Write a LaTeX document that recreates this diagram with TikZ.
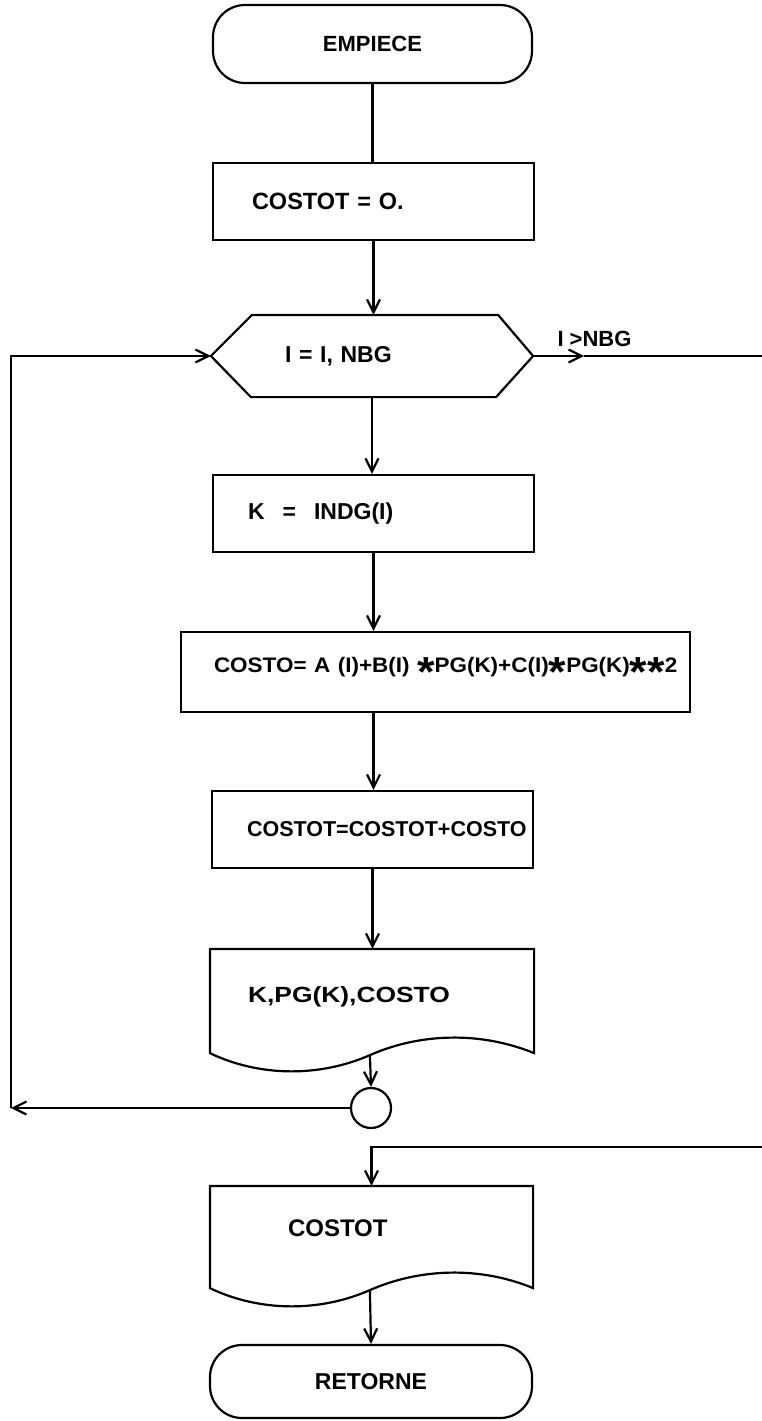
\documentclass[tikz,border=0pt]{standalone}
\usepackage{fontspec}
\setmainfont{Liberation Sans}
\usetikzlibrary{arrows.meta,calc}
\newcommand{\bigast}{\raisebox{-0.66em}{\scalebox{2}{*}}}
\newcommand{\docoutline}[1]{%
  \draw (#1.north west) -- (#1.south west)
    .. controls ($(#1.south west)+(50,24)$) and ($(#1.south west)+(110,24)$) .. ($(#1.south west)+(160,2)$) coordinate (#1out)
    .. controls ($(#1.south west)+(210,-20)$) and ($(#1.south west)+(270,-22)$) .. (#1.south east)
    -- (#1.north east) -- cycle;}
\begin{document}
\begin{tikzpicture}[x=1pt,y=-1pt,line width=2.2pt,
  fs/.style={font=\bfseries\fontsize{#1}{#1}\selectfont},
  flow/.style={-{Straight Barb[length=13pt,width=13pt]}},
  box/.style={draw,rectangle,inner sep=0pt,align=left},
  term/.style={draw,rectangle,rounded corners=32pt,inner sep=0pt},
  hidden/.style={rectangle,inner sep=0pt,align=left}]
\useasboundingbox (0,0) rectangle (761,1421);

% nodes
\node[term,fs=22,minimum width=319pt,minimum height=78pt] (start) at (372.5,44) {EMPIECE};
\node[box,fs=23.5,text width=321pt,minimum height=77pt] (init) at (373.5,201.5) {\hspace*{39pt}COSTOT = O.};
\node[hidden,fs=23,text width=320pt,minimum height=80pt] (hex) at (372,356) {\hspace*{73pt}I = I, NBG};
\draw (hex.west) -- ($(hex.north west)+(41,0)$) -- ($(hex.north east)+(-35,0)$) -- (hex.east)
      -- ($(hex.south east)+(-37,0)$) -- ($(hex.south west)+(40,0)$) -- cycle;
\node[fs=22,inner sep=0pt] (cond) at (594.5,339) {I >NBG};
\node[box,fs=23,text width=321pt,minimum height=77pt] (k) at (373.5,513.5) {\hspace*{35pt}K\hspace{18pt}=\hspace{18pt}INDG(I)};
\node[box,fs=21,text width=509pt,minimum height=80pt] (costo) at (435.5,672)
  {\hspace*{33pt}\scalebox{1.07}[1]{COSTO= A (I)+B(I) \bigast PG(K)+C(I)\bigast PG(K)\bigast\bigast 2}};
\node[box,fs=21.5,text width=321pt,minimum height=77pt] (sum) at (372.5,829.5) {\hspace*{35pt}COSTOT=COSTOT+COSTO};
\node[hidden,fs=22,text width=322pt,minimum height=102pt,text height=15.8pt,text depth=12pt] (d1) at (372,1001)
  {\hspace*{37pt}\scalebox{1.2}[1]{K,PG(K),COSTO}};
\docoutline{d1}
\node[draw,circle,minimum size=40pt,inner sep=0pt] (join) at (371,1108) {};
\node[hidden,fs=24,text width=321pt,minimum height=100pt,text height=17.2pt,text depth=18pt] (d2) at (371.5,1237)
  {\hspace*{77pt}COSTOT};
\docoutline{d2}
\node[term,fs=23,minimum width=322pt,minimum height=73pt] (end) at (371,1381.5) {RETORNE};

% connectors
\draw (start.south) -- (start.south |- init.north);
\draw[flow] (init.south) -- (init.south |- hex.north);
\draw[flow] (hex.south) -- (hex.south |- k.north);
\draw[flow] (k.south) -- (k.south |- costo.north);
\draw[flow] (k.south |- costo.south) -- (k.south |- sum.north);
\draw[flow] (sum.south) -- (sum.south |- d1.north);
\draw[flow] (d1out) -- (join.north);
\coordinate (cL) at (11,1108);
\draw[flow] (join.west) -- (cL);
\draw[flow] (cL) |- (hex.west);
\coordinate (arrR) at (584,356);
\draw[flow] (hex.east) -- (arrR);
\coordinate (cR) at (763,1147);
\draw[flow] (arrR) -| (cR) -| (d2.north);
\draw[flow] (d2out) -- (end.north);
\end{tikzpicture}
\end{document}
